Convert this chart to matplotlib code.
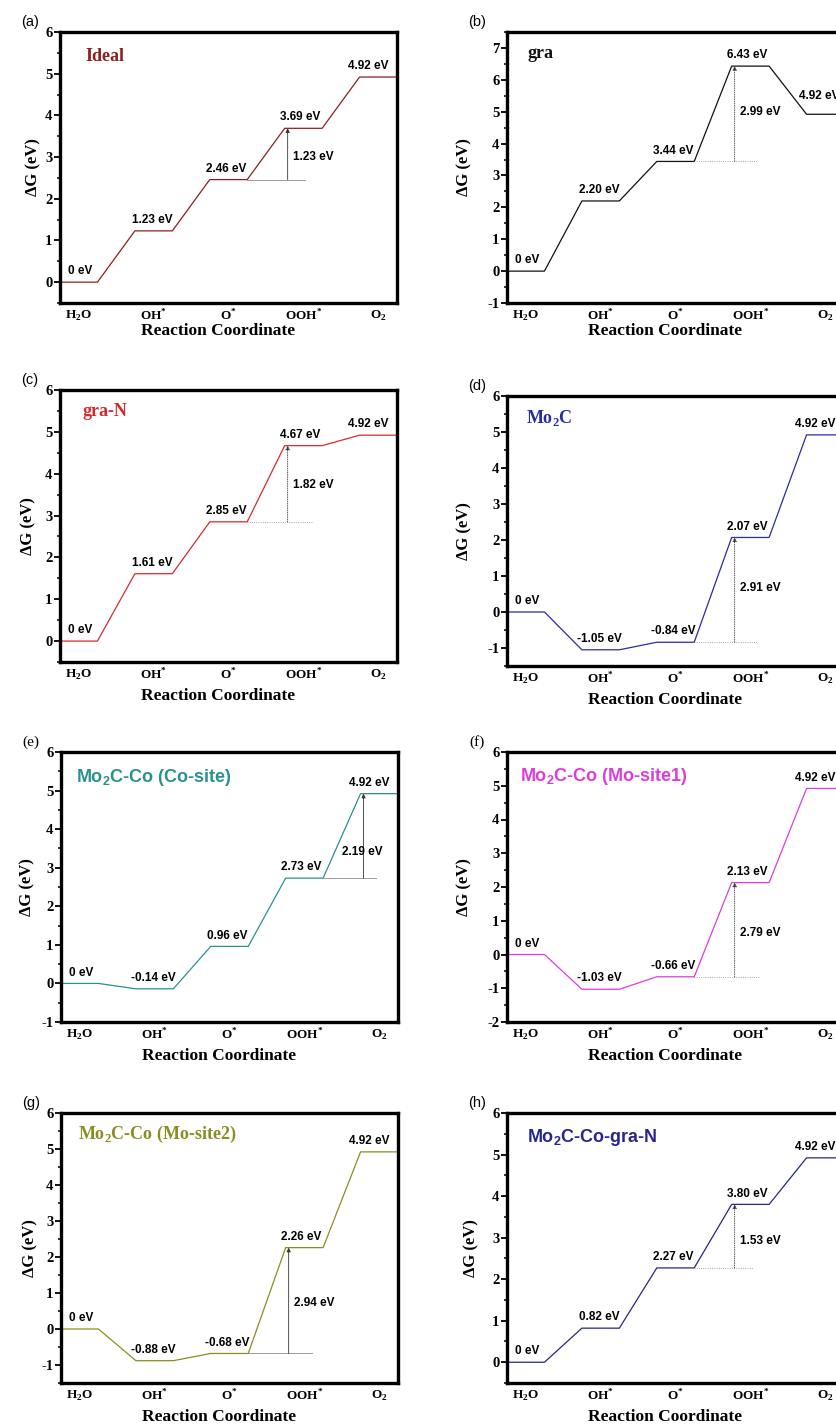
import numpy as np
import matplotlib as mpl
import matplotlib.pyplot as plt
from matplotlib.ticker import MultipleLocator

mpl.rcParams['mathtext.fontset'] = 'custom'
mpl.rcParams['mathtext.rm'] = 'Liberation Serif:bold'
mpl.rcParams['mathtext.bf'] = 'Liberation Serif:bold'
mpl.rcParams['mathtext.sf'] = 'Liberation Sans:bold'
mpl.rcParams['axes.unicode_minus'] = False

SERIF = ['Liberation Serif', 'DejaVu Serif']
SANS = ['Liberation Sans', 'DejaVu Sans']

steps = [r'H$_\mathbf{2}$O', r'OH$^\mathbf{*}$', r'O$^\mathbf{*}$',
         r'OOH$^\mathbf{*}$', r'O$_\mathbf{2}$']

# free energy of each OER intermediate (eV)
ideal = [0, 1.23, 2.46, 3.69, 4.92]
gra = [0, 2.20, 3.44, 6.43, 4.92]
gra_n = [0, 1.61, 2.85, 4.67, 4.92]
mo2c = [0, -1.05, -0.84, 2.07, 4.92]
co_site = [0, -0.14, 0.96, 2.73, 4.92]
mo_site1 = [0, -1.03, -0.66, 2.13, 4.92]
mo_site2 = [0, -0.88, -0.68, 2.26, 4.92]
mo2c_co_gra_n = [0, 0.82, 2.27, 3.80, 4.92]

# index of the potential-determining step (k -> k+1)
pds = [2, 2, 2, 2, 3, 2, 2, 2]

panels = [
    dict(tag='(a)', G=ideal, name='Ideal', serif=True, color='#8b1f1f', title_xy=(0.074, 0.91),
         box=(60, 32, 303), ylim=(-0.5, 6), ylab_x=-0.08, ext=0.23, ls='-', dy=3.0),
    dict(tag='(b)', G=gra, name='gra', serif=True, color='#111111', title_xy=(0.06, 0.92),
         box=(507, 32, 303), ylim=(-1, 7.5), ylab_x=-0.125, ext=0.31, ls=':', dy=5.0),
    dict(tag='(c)', G=gra_n, name='gra-N', serif=True, color='#d62b2b', title_xy=(0.068, 0.92),
         box=(60, 390, 662), ylim=(-0.5, 6), ylab_x=-0.095, ext=0.32, ls=':', dy=3.72),
    dict(tag='(d)', G=mo2c, name=r'Mo$_\mathbf{2}$C', serif=True, color='#2b2ba3', title_xy=(0.056, 0.92),
         box=(507, 396, 666), ylim=(-1.5, 6), ylab_x=-0.125, ext=0.31, ls=':', dy=0.67),
    dict(tag='(e)', G=co_site, name=r'Mo$_\mathsf{2}$C-Co (Co-site)', serif=False, color='#2a9090',
         title_xy=(0.045, 0.907),
         box=(61, 752, 1022), ylim=(-1, 6), ylab_x=-0.10, ext=0.16, ls='-', dy=3.41),
    dict(tag='(f)', G=mo_site1, name=r'Mo$_\mathsf{2}$C-Co (Mo-site1)', serif=False, color='#dd3cdd',
         title_xy=(0.039, 0.91),
         box=(507, 752, 1022), ylim=(-2, 6), ylab_x=-0.125, ext=0.33, ls=':', dy=0.64),
    dict(tag='(g)', G=mo_site2, name=r'Mo$_\mathbf{2}$C-Co (Mo-site2)', serif=True, color='#8c8c22',
         title_xy=(0.05, 0.92),
         box=(61, 1113, 1383), ylim=(-1.5, 6), ylab_x=-0.092, ext=0.31, ls='-', dy=0.72),
    dict(tag='(h)', G=mo2c_co_gra_n, name=r'Mo$_\mathsf{2}$C-Co-gra-N', serif=False, color='#26268c',
         title_xy=(0.06, 0.91),
         box=(507, 1113, 1383), ylim=(-0.5, 6), ylab_x=-0.107, ext=0.25, ls=':', dy=2.93),
]

W, H = 837, 1427
fig = plt.figure(figsize=(W / 100, H / 100), dpi=100)

label_x = [0.02, 0.98, 1.97, 2.96, 3.87]

for i, p in enumerate(panels):
    left, top, bottom = p['box']
    ax = fig.add_axes([left / W, 1 - bottom / H, 337 / W, (bottom - top) / H])
    G = np.asarray(p['G'], dtype=float)

    # flat level for each intermediate joined by ramps
    x = np.repeat(np.arange(5), 2) + np.tile([-0.25, 0.25], 5)
    y = np.repeat(G, 2)
    ax.plot(x, y, color=p['color'], lw=0.9)

    for j, g in enumerate(G):
        txt = '0 eV' if g == 0 else f'{g:.2f} eV'
        xo, yo = label_x[j], 3.5
        if p['tag'] == '(b)' and j == 4:
            xo, yo = 3.92, 8.5
        ax.annotate(txt, (xo, g), xytext=(0, yo), textcoords='offset points',
                    ha='center', va='bottom', fontsize=8.5, fontweight='bold', family=SANS)

    # potential-determining step
    k = pds[i]
    xa = k + 0.75 + 0.04
    ax.plot([k + 0.25, xa + p['ext']], [G[k], G[k]], color='0.55', lw=0.6, ls=p['ls'])
    ax.annotate('', xy=(xa, G[k + 1]), xytext=(xa, G[k]),
                arrowprops=dict(arrowstyle='-|>', lw=0.6, ls=p['ls'], color='0.2',
                                mutation_scale=6, shrinkA=0, shrinkB=0))
    dG = round(G[k + 1] - G[k], 2)
    tx = 3.5 if p['tag'] == '(e)' else xa + 0.07
    ax.text(tx, p['dy'], f'{dG:.2f} eV', ha='left', va='center',
            fontsize=8.5, fontweight='bold', family=SANS)

    ax.text(*p['title_xy'], p['name'], transform=ax.transAxes,
            color=p['color'], fontsize=13, fontweight='bold',
            family=SERIF if p['serif'] else SANS, ha='left', va='center')

    ax.set_xlim(-0.25, 4.25)
    ax.set_ylim(*p['ylim'])
    ax.set_xticks(range(5))
    ax.set_xticklabels(steps, fontsize=9.5, fontweight='bold', family=SERIF)
    ax.yaxis.set_major_locator(MultipleLocator(1))
    ax.yaxis.set_minor_locator(MultipleLocator(0.5))
    for t in ax.get_yticklabels():
        t.set_fontsize(10.5)
        t.set_fontweight('bold')
        t.set_family(SERIF)
    ax.tick_params(axis='x', length=0, pad=4)
    ax.tick_params(axis='y', which='major', direction='out', length=4, width=1.3, pad=1.5)
    ax.tick_params(axis='y', which='minor', direction='out', length=2.5, width=1.1)
    for s in ax.spines.values():
        s.set_linewidth(2.4)

    ax.set_ylabel('ΔG (eV)', fontsize=12, fontweight='bold', family=SERIF)
    ax.yaxis.label.set_va('center')
    ax.yaxis.set_label_coords(p['ylab_x'], 0.5)
    ax.set_xlabel('Reaction Coordinate', fontsize=12.5, fontweight='bold', family=SERIF)
    ax.xaxis.label.set_va('center')
    dist = 28 if i < 2 else 34
    ax.xaxis.set_label_coords(0.47, -dist / (bottom - top))

    # panel tag
    fig.text((left - 30) / W, 1 - (top - 10) / H, p['tag'], ha='center', va='center',
             fontsize=11 if p['tag'] in ('(e)', '(f)') else 10.5,
             family=SERIF if p['tag'] in ('(e)', '(f)') else SANS)

fig.savefig('out.png', dpi=100)
